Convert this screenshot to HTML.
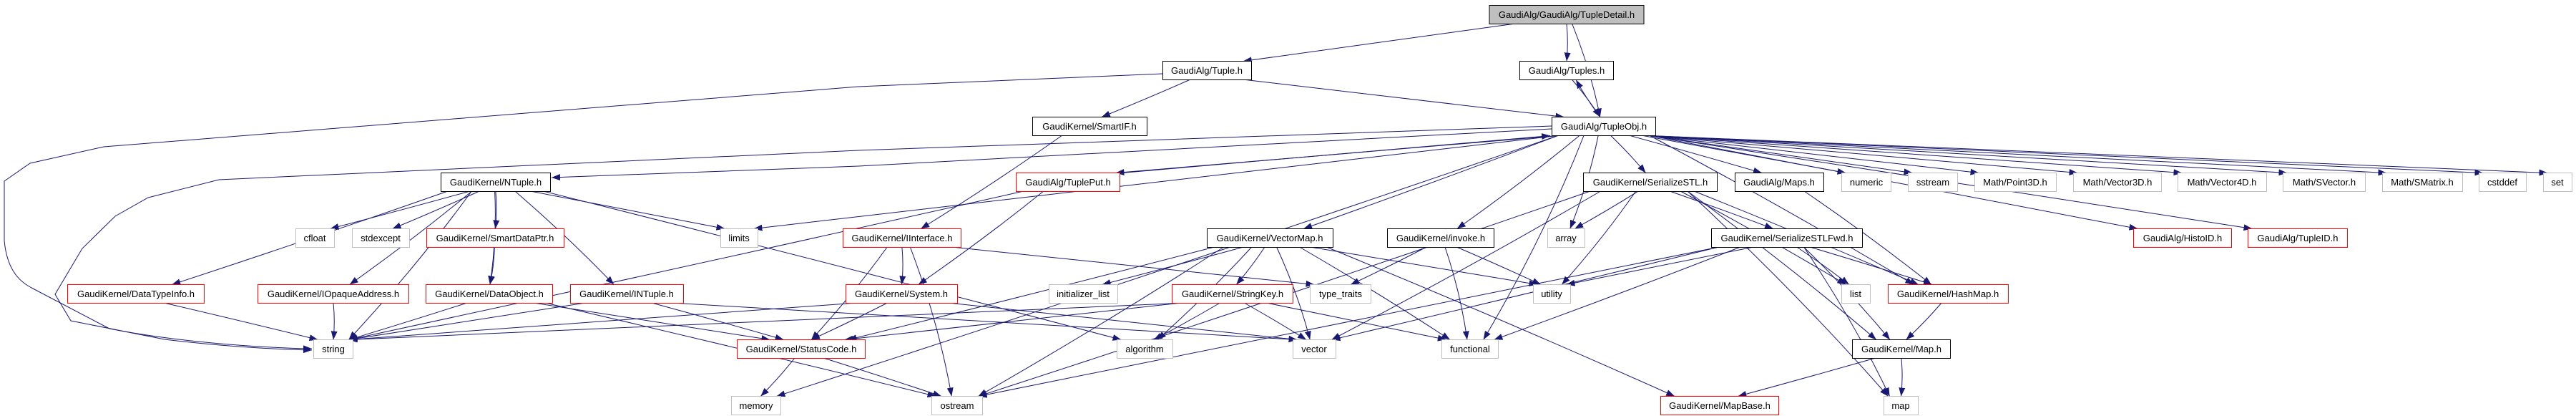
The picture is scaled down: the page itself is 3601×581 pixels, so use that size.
<!DOCTYPE html>
<html><head><meta charset="utf-8"><style>
html,body{margin:0;padding:0;background:#fff;width:3601px;height:581px;overflow:hidden}
svg{display:block}
text{font-family:"Liberation Sans",Arial,sans-serif;font-size:13px;fill:#000}
</style></head><body>
<svg id="s" width="3601" height="581" viewBox="0 0 3601 581" xmlns="http://www.w3.org/2000/svg">
<defs><marker id="a" viewBox="0 0 12 9" refX="12" refY="4.5" markerWidth="12" markerHeight="9" markerUnits="userSpaceOnUse" orient="auto"><path d="M0,0 L12,4.5 L0,9 z" fill="#191970"/></marker></defs>
<g id="edges" fill="none" stroke="#191970" stroke-width="1">
<path d="M1625,103 L1200,121 C700,160 300,190 145,205 L42,228 L6,253 L6,336 C10,380 30,395 46,403 L153,459 C260,480 380,486 436,487" marker-end="url(#a)"/>
<path d="M2169,176 C1700,195 1300,205 1200,210 L306,251 L207,276 L161,302 L115,347 L77,411 L99,448 L230,474 C330,486 400,488 436,489" marker-end="url(#a)"/>
<path d="M2169,180 C1700,205 1300,225 1200,232 L771,248" marker-end="url(#a)"/>
</g>
<g id="nodes" stroke-width="1">
<g id="TD"><rect x="2082" y="7.5" width="216" height="26" fill="#bfbfbf" stroke="#000"/><text x="2190" y="25" text-anchor="middle">GaudiAlg/GaudiAlg/TupleDetail.h</text></g>
<g id="Tuple"><rect x="1625.5" y="85.5" width="124" height="26" fill="#fff" stroke="#000"/><text x="1687" y="103" text-anchor="middle">GaudiAlg/Tuple.h</text></g>
<g id="Tuples"><rect x="2124.5" y="85.5" width="131" height="26" fill="#fff" stroke="#000"/><text x="2190" y="103" text-anchor="middle">GaudiAlg/Tuples.h</text></g>
<g id="SmartIF"><rect x="1443.5" y="163.5" width="160" height="26" fill="#fff" stroke="#000"/><text x="1523" y="181" text-anchor="middle">GaudiKernel/SmartIF.h</text></g>
<g id="TupleObj"><rect x="2169.5" y="163.5" width="145" height="26" fill="#fff" stroke="#000"/><text x="2242" y="181" text-anchor="middle">GaudiAlg/TupleObj.h</text></g>
<g id="NTuple"><rect x="616.5" y="241.5" width="153" height="26" fill="#fff" stroke="#000"/><text x="693" y="259" text-anchor="middle">GaudiKernel/NTuple.h</text></g>
<g id="limits"><rect x="1007.5" y="319.5" width="52" height="26" fill="#fff" stroke="#bfbfbf"/><text x="1033" y="337" text-anchor="middle">limits</text></g>
<g id="TuplePut"><rect x="1420.5" y="241.5" width="145" height="26" fill="#fff" stroke="#f00"/><text x="1493" y="259" text-anchor="middle">GaudiAlg/TuplePut.h</text></g>
<g id="SerSTL"><rect x="2213.5" y="241.5" width="187" height="26" fill="#fff" stroke="#000"/><text x="2307" y="259" text-anchor="middle">GaudiKernel/SerializeSTL.h</text></g>
<g id="Maps"><rect x="2425.5" y="241.5" width="124" height="26" fill="#fff" stroke="#000"/><text x="2487" y="259" text-anchor="middle">GaudiAlg/Maps.h</text></g>
<g id="numeric"><rect x="2574.5" y="241.5" width="69" height="26" fill="#fff" stroke="#bfbfbf"/><text x="2609" y="259" text-anchor="middle">numeric</text></g>
<g id="sstream"><rect x="2667.5" y="241.5" width="69" height="26" fill="#fff" stroke="#bfbfbf"/><text x="2702" y="259" text-anchor="middle">sstream</text></g>
<g id="P3"><rect x="2760.5" y="241.5" width="114" height="26" fill="#fff" stroke="#bfbfbf"/><text x="2817" y="259" text-anchor="middle">Math/Point3D.h</text></g>
<g id="V3"><rect x="2898.5" y="241.5" width="123" height="26" fill="#fff" stroke="#bfbfbf"/><text x="2960" y="259" text-anchor="middle">Math/Vector3D.h</text></g>
<g id="V4"><rect x="3044.5" y="241.5" width="124" height="26" fill="#fff" stroke="#bfbfbf"/><text x="3106" y="259" text-anchor="middle">Math/Vector4D.h</text></g>
<g id="SV"><rect x="3191.5" y="241.5" width="115" height="26" fill="#fff" stroke="#bfbfbf"/><text x="3249" y="259" text-anchor="middle">Math/SVector.h</text></g>
<g id="SM"><rect x="3330.5" y="241.5" width="112" height="26" fill="#fff" stroke="#bfbfbf"/><text x="3386" y="259" text-anchor="middle">Math/SMatrix.h</text></g>
<g id="cstddef"><rect x="3465.5" y="241.5" width="66" height="26" fill="#fff" stroke="#bfbfbf"/><text x="3498" y="259" text-anchor="middle">cstddef</text></g>
<g id="set"><rect x="3555.5" y="241.5" width="40" height="26" fill="#fff" stroke="#bfbfbf"/><text x="3575" y="259" text-anchor="middle">set</text></g>
<g id="cfloat"><rect x="413.5" y="319.5" width="54" height="26" fill="#fff" stroke="#bfbfbf"/><text x="440" y="337" text-anchor="middle">cfloat</text></g>
<g id="stdexcept"><rect x="492.5" y="319.5" width="80" height="26" fill="#fff" stroke="#bfbfbf"/><text x="532" y="337" text-anchor="middle">stdexcept</text></g>
<g id="SDP"><rect x="596.5" y="319.5" width="192" height="26" fill="#fff" stroke="#f00"/><text x="692" y="337" text-anchor="middle">GaudiKernel/SmartDataPtr.h</text></g>
<g id="IInterface"><rect x="1178.5" y="319.5" width="165" height="26" fill="#fff" stroke="#f00"/><text x="1261" y="337" text-anchor="middle">GaudiKernel/IInterface.h</text></g>
<g id="VectorMap"><rect x="1687.5" y="319.5" width="176" height="26" fill="#fff" stroke="#000"/><text x="1775" y="337" text-anchor="middle">GaudiKernel/VectorMap.h</text></g>
<g id="invoke"><rect x="1939.5" y="319.5" width="149" height="26" fill="#fff" stroke="#000"/><text x="2014" y="337" text-anchor="middle">GaudiKernel/invoke.h</text></g>
<g id="array"><rect x="2163.5" y="319.5" width="52" height="26" fill="#fff" stroke="#bfbfbf"/><text x="2189" y="337" text-anchor="middle">array</text></g>
<g id="SerFwd"><rect x="2392.5" y="319.5" width="211" height="26" fill="#fff" stroke="#000"/><text x="2498" y="337" text-anchor="middle">GaudiKernel/SerializeSTLFwd.h</text></g>
<g id="HistoID"><rect x="2982.5" y="319.5" width="137" height="26" fill="#fff" stroke="#f00"/><text x="3051" y="337" text-anchor="middle">GaudiAlg/HistoID.h</text></g>
<g id="TupleID"><rect x="3142.5" y="319.5" width="139" height="26" fill="#fff" stroke="#f00"/><text x="3212" y="337" text-anchor="middle">GaudiAlg/TupleID.h</text></g>
<g id="DTI"><rect x="94.5" y="397.5" width="191" height="26" fill="#fff" stroke="#f00"/><text x="190" y="415" text-anchor="middle">GaudiKernel/DataTypeInfo.h</text></g>
<g id="IOA"><rect x="360.5" y="397.5" width="211" height="26" fill="#fff" stroke="#f00"/><text x="466" y="415" text-anchor="middle">GaudiKernel/IOpaqueAddress.h</text></g>
<g id="DataObject"><rect x="595.5" y="397.5" width="177" height="26" fill="#fff" stroke="#f00"/><text x="684" y="415" text-anchor="middle">GaudiKernel/DataObject.h</text></g>
<g id="INTuple"><rect x="797.5" y="397.5" width="158" height="26" fill="#fff" stroke="#f00"/><text x="876" y="415" text-anchor="middle">GaudiKernel/INTuple.h</text></g>
<g id="System"><rect x="1182.5" y="397.5" width="156" height="26" fill="#fff" stroke="#f00"/><text x="1260" y="415" text-anchor="middle">GaudiKernel/System.h</text></g>
<g id="initl"><rect x="1466.5" y="397.5" width="96" height="26" fill="#fff" stroke="#bfbfbf"/><text x="1514" y="415" text-anchor="middle">initializer_list</text></g>
<g id="StringKey"><rect x="1638.5" y="397.5" width="169" height="26" fill="#fff" stroke="#f00"/><text x="1723" y="415" text-anchor="middle">GaudiKernel/StringKey.h</text></g>
<g id="tt"><rect x="1831.5" y="397.5" width="85" height="26" fill="#fff" stroke="#bfbfbf"/><text x="1874" y="415" text-anchor="middle">type_traits</text></g>
<g id="utility"><rect x="2143.5" y="397.5" width="52" height="26" fill="#fff" stroke="#bfbfbf"/><text x="2169" y="415" text-anchor="middle">utility</text></g>
<g id="list"><rect x="2574.5" y="397.5" width="40" height="26" fill="#fff" stroke="#bfbfbf"/><text x="2594" y="415" text-anchor="middle">list</text></g>
<g id="HashMap"><rect x="2639.5" y="397.5" width="168" height="26" fill="#fff" stroke="#f00"/><text x="2723" y="415" text-anchor="middle">GaudiKernel/HashMap.h</text></g>
<g id="string"><rect x="438.5" y="474.5" width="55" height="26" fill="#fff" stroke="#bfbfbf"/><text x="466" y="492" text-anchor="middle">string</text></g>
<g id="StatusCode"><rect x="1030.5" y="474.5" width="179" height="26" fill="#fff" stroke="#f00"/><text x="1120" y="492" text-anchor="middle">GaudiKernel/StatusCode.h</text></g>
<g id="algorithm"><rect x="1561.5" y="474.5" width="78" height="26" fill="#fff" stroke="#bfbfbf"/><text x="1600" y="492" text-anchor="middle">algorithm</text></g>
<g id="vector"><rect x="1807.5" y="474.5" width="60" height="26" fill="#fff" stroke="#bfbfbf"/><text x="1837" y="492" text-anchor="middle">vector</text></g>
<g id="functional"><rect x="2015.5" y="474.5" width="79" height="26" fill="#fff" stroke="#bfbfbf"/><text x="2055" y="492" text-anchor="middle">functional</text></g>
<g id="Map"><rect x="2589.5" y="474.5" width="137" height="26" fill="#fff" stroke="#000"/><text x="2658" y="492" text-anchor="middle">GaudiKernel/Map.h</text></g>
<g id="memory"><rect x="1022.5" y="553.5" width="69" height="26" fill="#fff" stroke="#bfbfbf"/><text x="1057" y="571" text-anchor="middle">memory</text></g>
<g id="ostream"><rect x="1302.5" y="553.5" width="71" height="26" fill="#fff" stroke="#bfbfbf"/><text x="1338" y="571" text-anchor="middle">ostream</text></g>
<g id="MapBase"><rect x="2321.5" y="553.5" width="165" height="26" fill="#fff" stroke="#f00"/><text x="2404" y="571" text-anchor="middle">GaudiKernel/MapBase.h</text></g>
<g id="map"><rect x="2633.5" y="553.5" width="48" height="26" fill="#fff" stroke="#bfbfbf"/><text x="2657" y="571" text-anchor="middle">map</text></g>
</g>
</svg>
<script>
(function(){
var E=[
["TD","Tuple"],["TD","Tuples"],["TD","TupleObj"],
["Tuple","SmartIF"],["Tuple","TupleObj"],
["Tuples","TupleObj"],["TupleObj","Tuples"],
["SmartIF","IInterface"],
["TupleObj","limits"],["TupleObj","TuplePut"],["TuplePut","TupleObj"],
["TupleObj","VectorMap"],["TupleObj","invoke"],["TupleObj","array"],["TupleObj","SerSTL"],["TupleObj","functional"],
["TupleObj","Maps"],["TupleObj","numeric"],["TupleObj","sstream"],["TupleObj","P3"],["TupleObj","V3"],["TupleObj","V4"],
["TupleObj","SV"],["TupleObj","SM"],["TupleObj","cstddef"],["TupleObj","set"],["TupleObj","memory"],
["TupleObj","HistoID"],["TupleObj","TupleID"],["TupleObj","HashMap"],
["NTuple","string"],["NTuple","DTI"],["NTuple","IOA"],["NTuple","cfloat"],["NTuple","stdexcept"],["NTuple","SDP"],
["NTuple","DataObject"],["NTuple","INTuple"],["NTuple","limits"],["NTuple","algorithm"],
["SDP","DataObject"],["DTI","string"],["IOA","string"],
["DataObject","string"],["DataObject","StatusCode"],["DataObject","ostream"],
["INTuple","string"],["INTuple","StatusCode"],["INTuple","vector"],
["TuplePut","System"],["TuplePut","string"],
["IInterface","System"],["IInterface","StatusCode"],["IInterface","tt"],["IInterface","ostream"],
["System","string"],["System","vector"],["System","StatusCode"],
["StatusCode","memory"],["StatusCode","ostream"],
["VectorMap","StatusCode"],["VectorMap","initl"],["VectorMap","StringKey"],["VectorMap","algorithm"],["VectorMap","vector"],
["VectorMap","functional"],["VectorMap","utility"],["VectorMap","ostream"],["VectorMap","MapBase"],
["invoke","tt"],["invoke","utility"],["invoke","functional"],
["StringKey","string"],["StringKey","algorithm"],["StringKey","vector"],["StringKey","functional"],["StringKey","StatusCode"],
["SerSTL","array"],["SerSTL","utility"],["SerSTL","vector"],["SerSTL","ostream"],["SerSTL","SerFwd"],["SerSTL","list"],
["SerSTL","HashMap"],["SerSTL","Map"],["SerSTL","map"],
["SerFwd","utility"],["SerFwd","vector"],["SerFwd","functional"],["SerFwd","list"],["SerFwd","HashMap"],["SerFwd","Map"],["SerFwd","map"],["SerFwd","ostream"],
["HashMap","Map"],["Map","MapBase"],["Map","map"],["Maps","HashMap"]
];
function box(id){var r=document.querySelector('#'+id+' rect');var x=+r.getAttribute('x'),y=+r.getAttribute('y'),w=+r.getAttribute('width'),h=+r.getAttribute('height');return {x:x,y:y,w:w,h:h,cx:x+w/2};}
var g=document.getElementById('edges'),ns='http://www.w3.org/2000/svg';
E.forEach(function(e){
 var s=box(e[0]),t=box(e[1]);
 var x1,y1,x2,y2;
 if(t.y>s.y){
  var fx=Math.max(s.x+8,Math.min(s.x+s.w-8,s.cx+(t.cx-s.cx)*0.15));
  x1=fx;y1=s.y+s.h;
  var tx=Math.max(t.x+6,Math.min(t.x+t.w-6,t.cx+(s.cx-t.cx)*0.1));
  x2=tx;y2=t.y;
 } else {
  x1=s.cx+(t.cx-s.cx)*0.1;y1=s.y;x2=t.cx+(s.cx-t.cx)*0.1+(e[0]==='TupleObj'?8:0);y2=t.y+t.h;
 }
 var p=document.createElementNS(ns,'path');
 var mx=(x1+x2)/2,my=(y1+y2)/2;
 p.setAttribute('d','M'+x1+','+y1+' Q'+(mx+(y2-y1)*0.05)+','+my+' '+x2+','+y2);
 p.setAttribute('marker-end','url(#a)');
 g.appendChild(p);
});
})();
</script>
</body></html>
